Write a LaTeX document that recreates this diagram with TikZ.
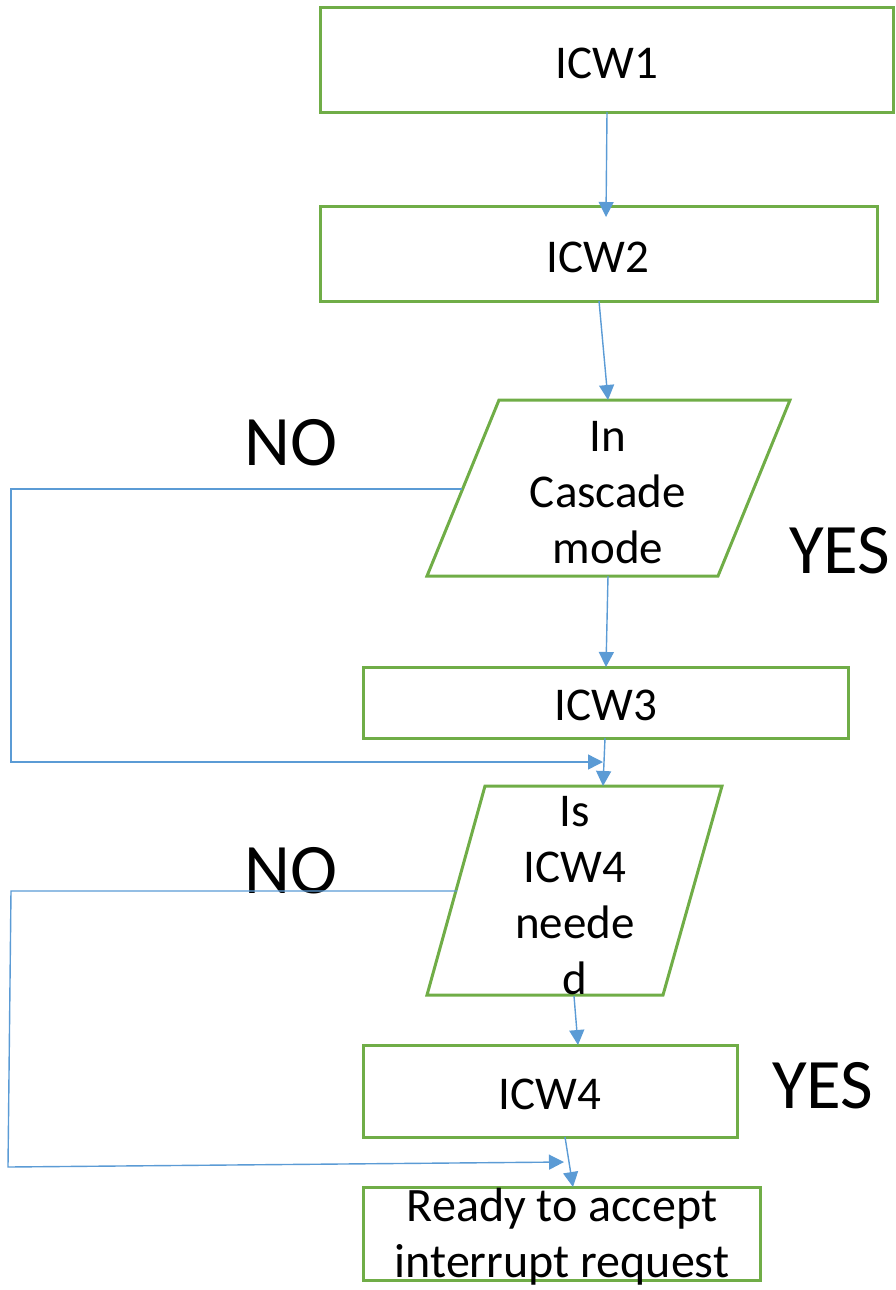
\documentclass[tikz,border=0pt]{standalone}
\usepackage{fontspec}
\setmainfont{Carlito}
\usetikzlibrary{arrows.meta}
\definecolor{boxgreen}{HTML}{70AD47}
\definecolor{linkblue}{HTML}{5B9BD5}
\begin{document}
\begin{tikzpicture}[x=1pt,y=-1pt,
  stepbox/.style={draw=boxgreen, line width=3pt, inner sep=0pt, align=center},
  steptext/.style={inner sep=0pt, align=center, font=\fontsize{47}{56}\selectfont},
  qtext/.style={inner sep=0pt, align=center, font=\fontsize{47}{56}\selectfont},
  decision/.style={draw=boxgreen, line width=3pt, line join=miter},
  answer/.style={inner sep=0pt, font=\fontsize{71}{85}\selectfont},
  flow/.style={draw=linkblue, line width=1.4pt, -{Triangle[length=15pt,width=15pt]}}]
\useasboundingbox (0,0) rectangle (896,1290);

% process boxes
\node[stepbox, minimum width=573pt, minimum height=104pt] (icw1) at (606.5,60) {};
\node[steptext] (icw1txt) at (607,63) {ICW1};
\node[stepbox, minimum width=557pt, minimum height=95pt] (icw2) at (598.5,253.5) {};
\node[steptext] (icw2txt) at (598,257) {ICW2};
\node[stepbox, minimum width=485pt, minimum height=71pt] (icw3) at (605.5,702.5) {};
\node[steptext] (icw3txt) at (606,705) {ICW3};
\node[stepbox, minimum width=374pt, minimum height=92pt] (icw4) at (550,1091) {};
\node[steptext] (icw4txt) at (550,1094) {ICW4};
\node[stepbox, minimum width=397pt, minimum height=93pt] (ready) at (561.5,1233.5) {};
\node[steptext, font=\fontsize{48}{56}\selectfont] (readytxt) at (562,1237) {Ready to accept\\interrupt request};

% decision parallelograms
\coordinate (p1tl) at (499,400);
\coordinate (p1tr) at (790,400);
\coordinate (p1br) at (718,576);
\coordinate (p1bl) at (427,576);
\draw[decision] (p1tl) -- (p1tr) -- (p1br) -- (p1bl) -- cycle;
\node[qtext] (cascade) at (608,493) {In\\Cascade\\mode};

\coordinate (p2tl) at (485,786);
\coordinate (p2tr) at (722,786);
\coordinate (p2br) at (663,995);
\coordinate (p2bl) at (427,995);
\draw[decision] (p2tl) -- (p2tr) -- (p2br) -- (p2bl) -- cycle;
\node[qtext] (needed) at (575,896) {Is\\ICW4\\neede\\d};

% answer labels
\node[answer] (no1) at (291,443) {NO};
\node[answer] (yes1) at (840,551) {YES};
\node[answer] (no2) at (291,871) {NO};
\node[answer] (yes2) at (823,1086) {YES};

% connector end points
\coordinate (a1s) at (607,112);
\coordinate (a1e) at (606,217);
\coordinate (a2s) at (599,301);
\coordinate (a2e) at (608,400);
\coordinate (a3s) at (608,576);
\coordinate (a3e) at (606,667);
\coordinate (a4s) at (605,738);
\coordinate (a4e) at (603,786);
\coordinate (a5s) at (574,996);
\coordinate (a5e) at (578,1045);
\coordinate (a6s) at (565,1137);
\coordinate (a6e) at (573,1187);

\coordinate (n1s) at (462,489);
\coordinate (n1a) at (11,489);
\coordinate (n1b) at (11,762);
\coordinate (n1e) at (603,762);
\coordinate (n2s) at (457,891);
\coordinate (n2a) at (11,891);
\coordinate (n2b) at (8,1167);
\coordinate (n2e) at (564,1162);

% straight flow
\draw[flow] (a1s) -- (a1e);
\draw[flow] (a2s) -- (a2e);
\draw[flow] (a3s) -- (a3e);
\draw[flow] (a4s) -- (a4e);
\draw[flow] (a5s) -- (a5e);
\draw[flow] (a6s) -- (a6e);

% NO branches
\draw[flow] (n1s) -- (n1a) -- (n1b) -- (n1e);
\draw[flow] (n2s) -- (n2a) -- (n2b) -- (n2e);
\end{tikzpicture}
\end{document}
